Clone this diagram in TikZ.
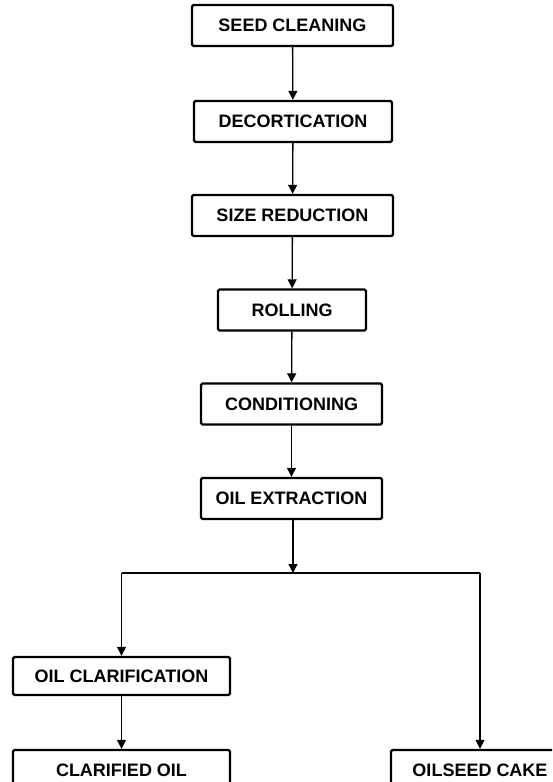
\documentclass[tikz,border=0pt]{standalone}
\usepackage{fontspec}
\setmainfont{Liberation Sans}
\usetikzlibrary{arrows.meta}

\tikzset{
  stepbox/.style={draw, line width=2.4pt, rounded corners=1.5pt, minimum height=41pt,
    inner sep=0pt, font=\bfseries\fontsize{18}{20}\selectfont},
  flow/.style={->, line width=1.3pt},
}

\begin{document}
\begin{tikzpicture}[x=1pt, y=-1pt, >={Triangle[length=9pt, width=9pt]}]

  % --- 1. 枠 ---
  \useasboundingbox (0,0) rectangle (552,782);
  \clip (0,0) rectangle (552,782);

  % --- 2. 工程の箱 ---
  \node[stepbox, minimum width=201pt] (clean)   at (292.5,25.5)  {SEED CLEANING};
  \node[stepbox, minimum width=198pt] (decort)  at (293,121.5)   {DECORTICATION};
  \node[stepbox, minimum width=201pt] (size)    at (292.5,215.5) {SIZE REDUCTION};
  \node[stepbox, minimum width=148pt] (roll)    at (292,310)     {ROLLING};
  \node[stepbox, minimum width=181pt] (cond)    at (291.5,404)   {CONDITIONING};
  \node[stepbox, minimum width=181pt] (extract) at (291.5,498.5) {OIL EXTRACTION};

  % --- 3. 分岐の後 ---
  \node[stepbox, minimum width=217pt, minimum height=38pt] (clarif) at (121.5,676) {OIL CLARIFICATION};
  \node[stepbox, minimum width=217pt] (oil)  at (121.5,770.5) {CLARIFIED OIL};
  \node[stepbox, minimum width=178pt] (cake) at (480,770.5)   {OILSEED CAKE};

  % --- 4. 矢印 ---
  \draw[flow] (clean)   -- (decort);
  \draw[flow] (decort)  -- (size);
  \draw[flow] (size)    -- (roll);
  \draw[flow] (roll)    -- (cond);
  \draw[flow] (cond)    -- (extract);

  % 分岐点
  \coordinate (split) at (293,573);
  \draw[flow] (extract.south -| split) -- (split);
  \draw[line width=2.2pt] (clarif.north |- split) -- (cake.north |- split);
  \draw[flow] (clarif.north |- split) -- (clarif);
  \draw[flow] (cake.north |- split) -- (cake);
  \draw[flow] (clarif) -- (oil);

\end{tikzpicture}
\end{document}
